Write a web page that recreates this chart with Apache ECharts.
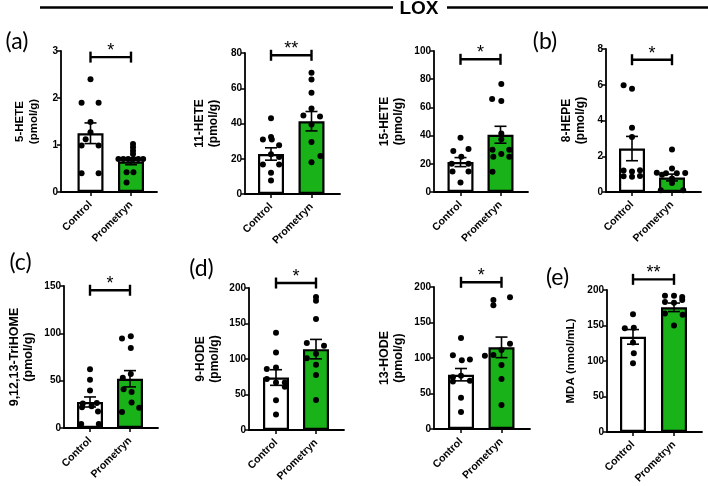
<!DOCTYPE html>
<html>
<head>
<meta charset="utf-8">
<script src="https://cdn.jsdelivr.net/npm/echarts@6/dist/echarts.min.js"></script>
<style>
  html, body { margin: 0; background: #fff; }
  #chart { width: 708px; height: 486px; }
</style>
</head>
<body>
<div id="chart"></div>
<script>
// groups on every panel
const groups = ['Control', 'Prometryn'];
const sigLabels = ['*', '**', '*', '*', '*', '*', '*', '**'];

// each point is [jitter from group centre, value]
// 5-HETE (pmol/g)
const hete5Mean = [1.25, 0.65];
const hete5Sem = [0.22, 0.07];
const hete5Control = [[0, 2.4], [-0.22, 1.9], [0.2, 1.9], [0, 1.49], [0, 1.27], [-0.12, 1.12], [-0.22, 0.99], [0.2, 0.99], [-0.22, 0.4], [0.2, 0.4]];
const hete5Prometryn = [[0.05, 1.02], [0.05, 0.95], [0.05, 0.88], [0.05, 0.81], [-0.31, 0.7], [-0.19, 0.7], [-0.07, 0.7], [0.06, 0.7], [0.18, 0.7], [0.3, 0.7], [-0.11, 0.42], [0.06, 0.42], [-0.11, 0.2]];

// 11-HETE (pmol/g)
const hete11Mean = [22.7, 41.3];
const hete11Sem = [3.5, 5.5];
const hete11Control = [[0, 43], [0, 32.3], [-0.2, 30.9], [0.02, 30.9], [0.2, 27.7], [0, 22.6], [0.2, 21], [-0.2, 16.8], [0.2, 16.8], [0, 12], [0, 7.7]];
const hete11Prometryn = [[0, 68.8], [0, 65], [0, 57.5], [0, 48.5], [-0.2, 44.5], [0.21, 44], [0, 39.5], [0, 29.5], [0.22, 21.5], [0, 18]];

// 15-HETE (pmol/g)
const hete15Mean = [21.2, 40.6];
const hete15Sem = [3.2, 6];
const hete15Control = [[0, 38.5], [0.2, 30.5], [-0.18, 29], [0.02, 25], [-0.22, 20], [0.2, 20], [-0.2, 14.5], [0.2, 14.5], [0, 6.8]];
const hete15Prometryn = [[0.02, 76.6], [-0.21, 66], [0.02, 64.5], [0.02, 41.5], [0.02, 37.5], [-0.2, 30], [0.22, 30], [0.02, 27], [-0.18, 25], [0.22, 25], [-0.2, 14.4]];

// 8-HEPE (pmol/g)
const hepe8Mean = [2.43, 0.81];
const hepe8Sem = [0.68, 0.19];
const hepe8Control = [[-0.21, 5.97], [0, 5.78], [0, 3.6], [0, 3.08], [-0.21, 1.2], [0, 1.15], [0.2, 1.22], [-0.21, 0.88], [0, 0.85], [0.2, 0.9]];
const hepe8Prometryn = [[0, 2.38], [0, 1.31], [-0.38, 1.08], [-0.15, 1.05], [0.12, 1.05], [0.33, 1.06], [-0.25, 0.97], [0, 0.75], [0, 0.5], [-0.28, 0.1], [0.28, 0.1]];

// 9,12,13-TriHOME (pmol/g)
const trihomeMean = [27.5, 52];
const trihomeSem = [5.3, 8.6];
const trihomeControl = [[0, 62], [0, 51], [0, 39.5], [-0.18, 26], [0.17, 26.5], [-0.2, 22], [0.04, 23], [0.2, 17.5], [-0.22, 4.2], [0.22, 4.2]];
const trihomePrometryn = [[-0.2, 94.5], [0.02, 97], [0.02, 84.5], [0.02, 57], [-0.18, 53], [-0.16, 41], [0.04, 38], [0.04, 27], [0.23, 21.5], [-0.2, 17]];

// 9-HODE (pmol/g)
const hode9Mean = [73.9, 113.9];
const hode9Sem = [11, 13.7];
const hode9Control = [[0, 137], [0, 109], [-0.23, 86], [0, 88], [-0.23, 72], [0, 67], [0.22, 67], [0.22, 61], [0, 42], [0, 22]];
const hode9Prometryn = [[0, 187.3], [0, 182.1], [0, 156.2], [-0.23, 122.4], [0.2, 118.6], [0, 107.3], [-0.23, 101.2], [0, 91.8], [0, 77.6], [0, 42.4]];

// 13-HODE (pmol/g)
const hode13Mean = [76.5, 115];
const hode13Sem = [8.7, 14.5];
const hode13Control = [[0, 128], [-0.2, 104], [0.02, 97], [0.22, 98], [-0.2, 73], [0, 75], [0.22, 68], [-0.2, 67], [0, 44], [0, 24]];
const hode13Prometryn = [[0.21, 185.4], [-0.2, 181.7], [-0.2, 174.2], [0.21, 120.2], [0, 111.3], [-0.2, 104.2], [-0.41, 103.3], [0, 90.1], [0, 70.4], [0, 33.8]];

// MDA (nmol/mL)
const mdaMean = [134, 175.6];
const mdaSem = [10.3, 6];
const mdaControl = [[0, 166], [-0.2, 146], [0.02, 147], [0, 126], [0.02, 111], [0, 97]];
const mdaPrometryn = [[-0.22, 192], [0, 192], [0.2, 190], [-0.22, 183], [0, 182], [0.2, 186], [-0.22, 167], [0.21, 165], [0, 150]];

const green = '#19b219';
const font = 'Liberation Sans, Arial, sans-serif';

// panel placement in the page
const panels = [
  { name: '5-HETE\n(pmol/g)', mean: hete5Mean, sem: hete5Sem, ctrl: hete5Control, prom: hete5Prometryn, ymax: 3, step: 1, left: 61, top: 51, zero: 192, right: 157, c0: 90.5, d: 40.5, bracket: 2.87, gap: 20, nameSize: 11.5 },
  { name: '11-HETE\n(pmol/g)', mean: hete11Mean, sem: hete11Sem, ctrl: hete11Control, prom: hete11Prometryn, ymax: 80, step: 20, left: 245, top: 53, zero: 194, right: 340, c0: 271, d: 40.5, bracket: 78.7, gap: 24, nameSize: 12 },
  { name: '15-HETE\n(pmol/g)', mean: hete15Mean, sem: hete15Sem, ctrl: hete15Control, prom: hete15Prometryn, ymax: 100, step: 20, left: 434, top: 51, zero: 192, right: 528, c0: 460.5, d: 40, bracket: 94.1, gap: 28, nameSize: 12 },
  { name: '8-HEPE\n(pmol/g)', mean: hepe8Mean, sem: hepe8Sem, ctrl: hepe8Control, prom: hepe8Prometryn, ymax: 8, step: 2, left: 606, top: 49, zero: 192, right: 701, c0: 632, d: 40, bracket: 7.4, gap: 18, nameSize: 12 },
  { name: '9,12,13-TriHOME\n(pmol/g)', mean: trihomeMean, sem: trihomeSem, ctrl: trihomeControl, prom: trihomePrometryn, ymax: 150, step: 50, left: 64, top: 286, zero: 428, right: 158, c0: 90, d: 40, bracket: 145.5, gap: 28, nameSize: 12.5 },
  { name: '9-HODE\n(pmol/g)', mean: hode9Mean, sem: hode9Sem, ctrl: hode9Control, prom: hode9Prometryn, ymax: 200, step: 50, left: 249, top: 288, zero: 430, right: 344, c0: 276, d: 40, bracket: 207, gap: 27, nameSize: 12 },
  { name: '13-HODE\n(pmol/g)', mean: hode13Mean, sem: hode13Sem, ctrl: hode13Control, prom: hode13Prometryn, ymax: 200, step: 50, left: 434, top: 287, zero: 429, right: 530, c0: 461, d: 40.5, bracket: 206.6, gap: 28, nameSize: 12.5 },
  { name: 'MDA (nmol/mL)', mean: mdaMean, sem: mdaSem, ctrl: mdaControl, prom: mdaPrometryn, ymax: 200, step: 50, left: 607, top: 290, zero: 432, right: 702, c0: 633, d: 41, bracket: 215, gap: 29, nameSize: 11.5 }
];

const chart = echarts.init(document.getElementById('chart'));

function errorBarItem(params, api) {
  const x = api.value(0);
  const hi = api.coord([x, api.value(2)]);
  const lo = api.coord([x, api.value(1)]);
  const half = 6;
  const style = { stroke: '#000', lineWidth: 1.6 };
  return {
    type: 'group',
    children: [
      { type: 'line', shape: { x1: hi[0], y1: hi[1], x2: lo[0], y2: lo[1] }, style },
      { type: 'line', shape: { x1: hi[0] - half, y1: hi[1], x2: hi[0] + half, y2: hi[1] }, style },
      { type: 'line', shape: { x1: lo[0] - half, y1: lo[1], x2: lo[0] + half, y2: lo[1] }, style }
    ]
  };
}

function makeBracket(label) {
  return function (params, api) {
    const l = api.coord([api.value(0), api.value(2)]);
    const r = api.coord([api.value(1), api.value(2)]);
    const style = { stroke: '#000', lineWidth: 2.4 };
    return {
      type: 'group',
      children: [
        { type: 'line', shape: { x1: l[0], y1: l[1], x2: r[0], y2: r[1] }, style },
        { type: 'line', shape: { x1: l[0], y1: l[1] - 5.5, x2: l[0], y2: l[1] + 5.5 }, style },
        { type: 'line', shape: { x1: r[0], y1: r[1] - 5.5, x2: r[0], y2: r[1] + 5.5 }, style },
        {
          type: 'text',
          style: {
            text: label, x: (l[0] + r[0]) / 2, y: l[1] - 6,
            align: 'center', verticalAlign: 'middle',
            fontSize: 18, fontFamily: font, fill: '#000'
          }
        }
      ]
    };
  };
}

const grid = [], xAxis = [], yAxis = [], series = [];

panels.forEach((p, i) => {
  grid.push({
    left: p.left, top: p.top, width: p.right - p.left, height: p.zero - p.top,
    containLabel: false, outerBoundsMode: 'none'
  });
  xAxis.push({
    type: 'value', gridIndex: i,
    min: (p.left - p.c0) / p.d, max: (p.right - p.c0) / p.d,
    axisLine: { show: true, onZero: false, lineStyle: { color: '#000', width: 1.8 } },
    axisTick: { show: true, customValues: [0, 1], inside: false, length: 4, lineStyle: { color: '#000', width: 1.5 } },
    axisLabel: {
      customValues: [0, 1], formatter: v => groups[Math.round(v)],
      rotate: 45, margin: 11, color: '#000', fontSize: 10.5, fontWeight: 'bold', fontFamily: font
    },
    splitLine: { show: false }
  });
  yAxis.push({
    type: 'value', gridIndex: i, min: 0, max: p.ymax, interval: p.step,
    name: p.name, nameLocation: 'middle', nameGap: p.gap,
    nameTextStyle: { color: '#000', fontSize: p.nameSize, fontWeight: 'bold', fontFamily: font, lineHeight: 14 },
    axisLine: { show: true, onZero: false, lineStyle: { color: '#000', width: 1.8 } },
    axisTick: { show: true, inside: false, length: 4, lineStyle: { color: '#000', width: 1.5 } },
    axisLabel: { color: '#000', fontSize: 10, fontWeight: 'bold', fontFamily: font, margin: 3 },
    splitLine: { show: false }
  });
  series.push({
    type: 'bar', xAxisIndex: i, yAxisIndex: i, barWidth: 26,
    itemStyle: { borderColor: '#000', borderWidth: 2.2 },
    data: [
      { value: [0, p.mean[0]], itemStyle: { color: '#fff' } },
      { value: [1, p.mean[1]], itemStyle: { color: green } }
    ],
    z: 2
  });
  series.push({
    type: 'scatter', xAxisIndex: i, yAxisIndex: i, symbolSize: 6,
    itemStyle: { color: '#000', opacity: 1 },
    data: p.ctrl.map(pt => [pt[0], pt[1]]).concat(p.prom.map(pt => [1 + pt[0], pt[1]])),
    z: 3
  });
  series.push({
    type: 'custom', xAxisIndex: i, yAxisIndex: i, renderItem: errorBarItem,
    encode: { x: 0, y: [1, 2] },
    data: [0, 1].map(k => [k, p.mean[k] - p.sem[k], p.mean[k] + p.sem[k]]),
    z: 4
  });
  series.push({
    type: 'custom', xAxisIndex: i, yAxisIndex: i, renderItem: makeBracket(sigLabels[i]),
    encode: { x: [0, 1], y: 2 }, clip: false,
    data: [[0, 1, p.bracket]],
    z: 4
  });
});

const letterStyle = { fontSize: 23, fontFamily: 'Lato, Open Sans, sans-serif', fill: '#000', align: 'center', verticalAlign: 'middle' };
const graphic = [
  { type: 'line', shape: { x1: 40, y1: 7.5, x2: 393, y2: 7.5 }, style: { stroke: '#000', lineWidth: 2.5 } },
  { type: 'line', shape: { x1: 447, y1: 7.5, x2: 708, y2: 7.5 }, style: { stroke: '#000', lineWidth: 2.5 } },
  { type: 'text', x: 419, y: 9, style: { text: 'LOX', fontSize: 19, fontWeight: 'bold', fontFamily: font, fill: '#000', align: 'center', verticalAlign: 'middle' } },
  { type: 'text', x: 17, y: 42, style: Object.assign({ text: '(a)' }, letterStyle) },
  { type: 'text', x: 545, y: 42, style: Object.assign({ text: '(b)' }, letterStyle) },
  { type: 'text', x: 20.5, y: 263, style: Object.assign({ text: '(c)' }, letterStyle) },
  { type: 'text', x: 201.5, y: 269, style: Object.assign({ text: '(d)' }, letterStyle) },
  { type: 'text', x: 557.5, y: 277.5, style: Object.assign({ text: '(e)' }, letterStyle) }
];

chart.setOption({
  animation: false,
  backgroundColor: '#fff',
  textStyle: { fontFamily: font },
  grid, xAxis, yAxis, series, graphic
});
</script>
</body>
</html>
